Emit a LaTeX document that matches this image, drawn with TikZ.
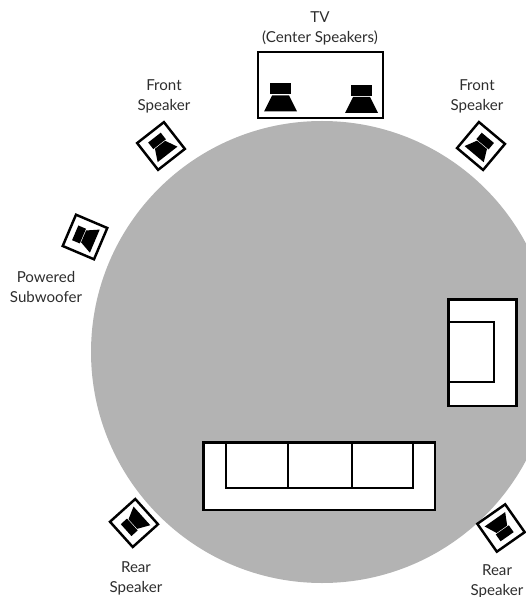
\documentclass[tikz,border=0pt]{standalone}
\usepackage{fontspec}
\setmainfont{Lato}
\definecolor{room}{RGB}{179,179,179}
\definecolor{ink}{RGB}{0,0,0}
\definecolor{lblgray}{RGB}{45,45,45}
\tikzset{
  furn/.style={draw=ink, line width=1.5pt, fill=white},
  cush/.style={draw=ink, line width=1.25pt, fill=white},
  spkbox/.style={draw=ink, line width=1.4pt, fill=white, minimum size=0.68cm, inner sep=0pt},
  lbl/.style={font=\fontsize{8.6}{11.4}\selectfont, text=lblgray, align=center, inner sep=0pt},
  pics/spkicon/.style={code={
    \fill[ink] (-10.5,-14) rectangle (10.5,-3);
    \fill[ink] (-8.5,-2) -- (8.5,-2) -- (16.5,14) -- (-16.5,14) -- cycle;
  }},
}
\begin{document}
\begin{tikzpicture}[x=0.02cm, y=-0.02cm]
  \useasboundingbox (0,0) rectangle (526,597);

  % listening area
  \begin{scope}
    \clip (0,0) rectangle (526,597);
    \fill[room] (322,352) circle [radius=231];
  \end{scope}

  % tv with the two center speakers
  \draw[furn] (258,52) rectangle (383,118);
  \pic at (280.5,97.5) {spkicon};
  \pic at (361.5,99) {spkicon};

  % sofa
  \draw[furn] (203.5,442.5) rectangle (435,510);
  \draw[cush] (226,442.5) rectangle (287.7,487.7);
  \draw[cush] (287.7,442.5) rectangle (352.3,487.7);
  \draw[cush] (352.3,442.5) rectangle (412.7,487.7);

  % armchair
  \draw[furn] (448.5,299.5) rectangle (516.7,406);
  \draw[cush] (448.5,321.7) rectangle (494.3,382.3);

  % speakers, turned towards the room
  \foreach \spkname/\px/\py/\ang in {frontl/161/146/38, frontr/481/146/-40, sub/85/237/67, rearl/134/523/132, rearr/501/528/-145} {
    \node[spkbox, rotate=\ang] (\spkname) at (\px,\py) {};
    \pic[rotate=\ang, scale=0.76] at (\spkname) {spkicon};
  }

  % labels
  \node[lbl] (tvlbl) at (320,28) {TV\\(Center Speakers)};
  \node[lbl] (frontllbl) at (164,96) {Front\\Speaker};
  \node[lbl] (frontrlbl) at (477,96) {Front\\Speaker};
  \node[lbl] (sublbl) at (46,287) {Powered\\Subwoofer};
  \node[lbl] (rearllbl) at (136,578) {Rear\\Speaker};
  \node[lbl] (rearrlbl) at (497,581) {Rear\\Speaker};
\end{tikzpicture}
\end{document}
